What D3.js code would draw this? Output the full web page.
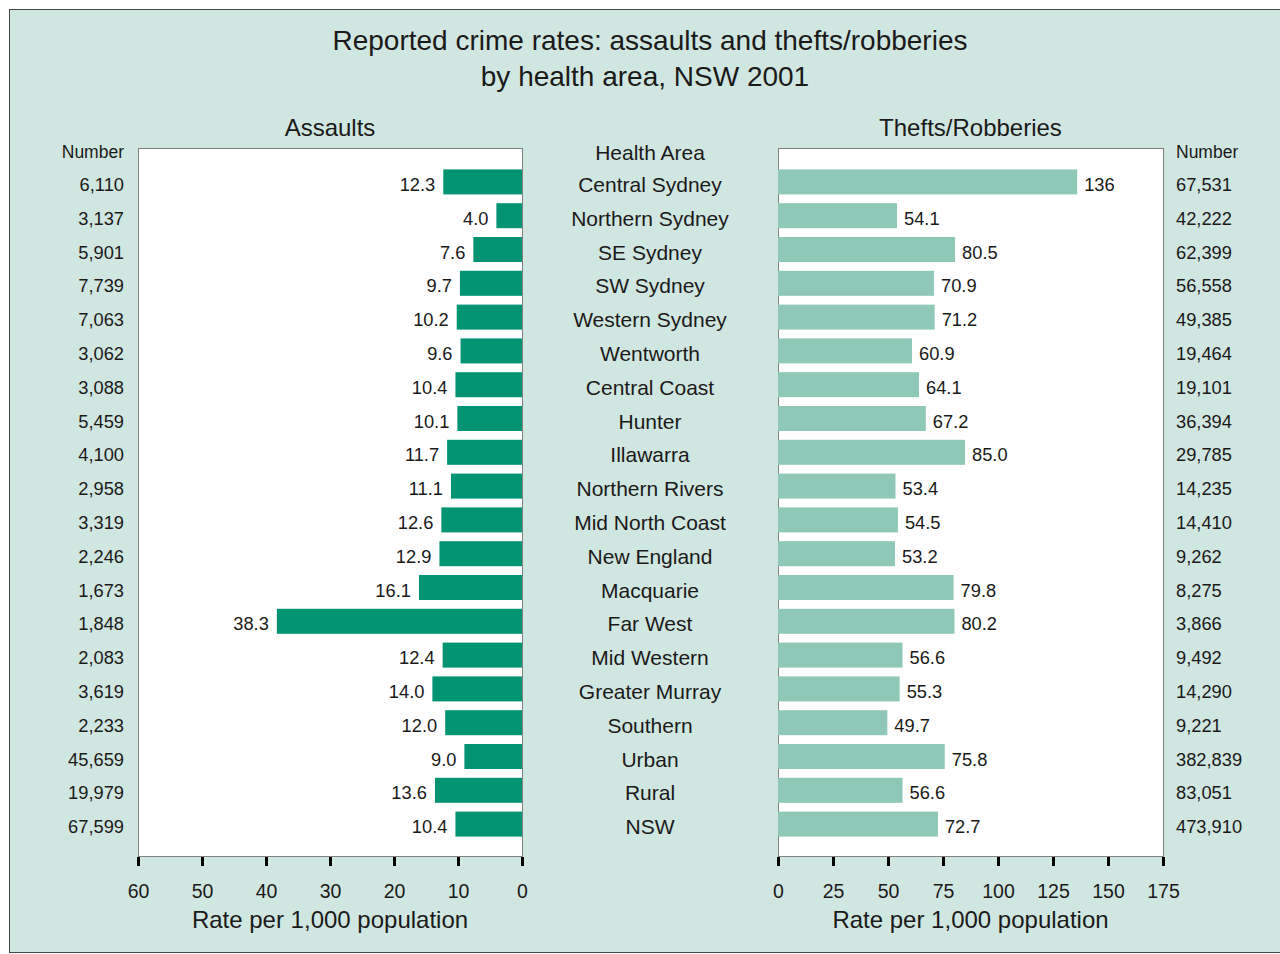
<!DOCTYPE html>
<html>
<head>
<meta charset="utf-8">
<script src="https://cdn.jsdelivr.net/npm/d3@7"></script>
<style>
  body { margin: 0; background: #fff; }
  svg { display: block; font-family: "Liberation Sans", Arial, sans-serif; }
</style>
</head>
<body>
<div id="chart"></div>
<script>
var areas = ['Central Sydney', 'Northern Sydney', 'SE Sydney', 'SW Sydney', 'Western Sydney',
  'Wentworth', 'Central Coast', 'Hunter', 'Illawarra', 'Northern Rivers', 'Mid North Coast',
  'New England', 'Macquarie', 'Far West', 'Mid Western', 'Greater Murray', 'Southern',
  'Urban', 'Rural', 'NSW']
var assaultRate = [12.3, 4.0, 7.6, 9.7, 10.2, 9.6, 10.4, 10.1, 11.7, 11.1, 12.6, 12.9, 16.1, 38.3,
  12.4, 14.0, 12.0, 9.0, 13.6, 10.4]
var assaultNum = ['6,110', '3,137', '5,901', '7,739', '7,063', '3,062', '3,088', '5,459', '4,100',
  '2,958', '3,319', '2,246', '1,673', '1,848', '2,083', '3,619', '2,233', '45,659', '19,979', '67,599']
var theftRate = [136, 54.1, 80.5, 70.9, 71.2, 60.9, 64.1, 67.2, 85.0, 53.4, 54.5, 53.2, 79.8, 80.2,
  56.6, 55.3, 49.7, 75.8, 56.6, 72.7]
var theftLabel = ['136', '54.1', '80.5', '70.9', '71.2', '60.9', '64.1', '67.2', '85.0', '53.4',
  '54.5', '53.2', '79.8', '80.2', '56.6', '55.3', '49.7', '75.8', '56.6', '72.7']
var theftNum = ['67,531', '42,222', '62,399', '56,558', '49,385', '19,464', '19,101', '36,394',
  '29,785', '14,235', '14,410', '9,262', '8,275', '3,866', '9,492', '14,290', '9,221', '382,839',
  '83,051', '473,910']
var assaultTicks = [60, 50, 40, 30, 20, 10, 0]
var theftTicks = [0, 25, 50, 75, 100, 125, 150, 175]

var W = 1280, H = 954
var bg = '#d0e6e0', ink = '#1a1a1a'

var svg = d3.select('#chart').append('svg').attr('width', W).attr('height', H)

svg.append('rect').attr('x', 9.5).attr('y', 9.5).attr('width', W).attr('height', 943)
  .attr('fill', bg).attr('stroke', '#444').attr('stroke-width', 1)

var plotTop = 148, plotBot = 856

var y = d3.scaleBand().domain(areas).range([167, 843]).paddingInner(0.26).paddingOuter(0.13)
var rows = areas.map((a, i) => ({area: a, i}))

var xA = d3.scaleLinear().domain([60, 0]).range([138, 522])
var xT = d3.scaleLinear().domain([0, 175]).range([778, 1163])

svg.append('text').attr('x', 650).attr('y', 50).attr('text-anchor', 'middle')
  .attr('font-size', 28).attr('fill', ink).text('Reported crime rates: assaults and thefts/robberies')
svg.append('text').attr('x', 645).attr('y', 86).attr('text-anchor', 'middle')
  .attr('font-size', 28).attr('fill', ink).text('by health area, NSW 2001')

function panel(x, vals, labels, nums, ticks, title, color, left) {
  var x0 = x.range()[0], x1 = x.range()[1]
  var g = svg.append('g')
  g.append('rect').attr('x', x0 + 0.5).attr('y', plotTop + 0.5)
    .attr('width', x1 - x0).attr('height', plotBot - plotTop)
    .attr('fill', '#fff').attr('stroke', '#808080').attr('stroke-width', 1)

  g.selectAll('rect.bar').data(rows).join('rect').attr('class', 'bar')
    .attr('x', d => left ? x(vals[d.i]) : x(0))
    .attr('width', d => left ? x(0) - x(vals[d.i]) : x(vals[d.i]) - x(0))
    .attr('y', d => y(d.area) - 2)
    .attr('height', y.bandwidth())
    .attr('fill', color)

  g.selectAll('text.val').data(rows).join('text').attr('class', 'val')
    .attr('x', d => left ? x(vals[d.i]) - 8 : x(vals[d.i]) + 7)
    .attr('y', d => y(d.area) + y.bandwidth() / 2 + 7)
    .attr('text-anchor', left ? 'end' : 'start')
    .attr('font-size', 18.3).attr('fill', ink)
    .text(d => labels[d.i])

  var nx = left ? 124 : 1176
  g.selectAll('text.num').data(rows).join('text').attr('class', 'num')
    .attr('x', nx)
    .attr('y', d => y(d.area) + y.bandwidth() / 2 + 7)
    .attr('text-anchor', left ? 'end' : 'start')
    .attr('font-size', 18.3).attr('fill', ink)
    .text(d => nums[d.i])
  g.append('text').attr('x', nx).attr('y', 158)
    .attr('text-anchor', left ? 'end' : 'start')
    .attr('font-size', 17.5).attr('fill', ink).text('Number')

  var axis = d3.axisBottom(x).tickValues(ticks).tickSize(9).tickPadding(18)
  var ag = g.append('g').attr('transform', `translate(0,${plotBot + 1})`).call(axis)
  ag.select('.domain').remove()
  ag.selectAll('.tick line').attr('stroke', '#000').attr('stroke-width', 3)
  ag.selectAll('.tick text').attr('font-size', 19.5).attr('fill', ink)
    .attr('font-family', '"Liberation Sans", Arial, sans-serif')

  var cx = (x0 + x1) / 2
  g.append('text').attr('x', cx).attr('y', 928).attr('text-anchor', 'middle')
    .attr('font-size', 24).attr('fill', ink).text('Rate per 1,000 population')
  g.append('text').attr('x', cx).attr('y', 136).attr('text-anchor', 'middle')
    .attr('font-size', 24).attr('fill', ink).text(title)
}

panel(xA, assaultRate, assaultRate.map(d => d.toFixed(1)), assaultNum, assaultTicks, 'Assaults', '#009473', true)
panel(xT, theftRate, theftLabel, theftNum, theftTicks, 'Thefts/Robberies', '#90c8b8', false)

svg.append('text').attr('x', 650).attr('y', 160).attr('text-anchor', 'middle')
  .attr('font-size', 21).attr('fill', ink).text('Health Area')
svg.selectAll('text.area').data(rows).join('text').attr('class', 'area')
  .attr('x', 650).attr('y', d => y(d.area) + y.bandwidth() / 2 + 8)
  .attr('text-anchor', 'middle').attr('font-size', 21).attr('fill', ink)
  .text(d => d.area)
</script>
</body>
</html>
